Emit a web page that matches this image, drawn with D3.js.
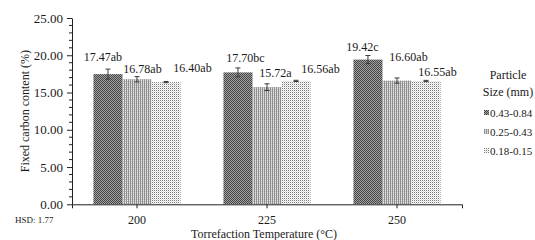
<!DOCTYPE html>
<html><head><meta charset="utf-8">
<script src="https://cdn.jsdelivr.net/npm/d3@7"></script>
<style>
html,body{margin:0;padding:0;background:#fff;}
svg{display:block;}
svg text{font-family:"Times New Roman","Liberation Serif","DejaVu Serif",serif;}
</style></head>
<body><svg id="c" width="535" height="240"></svg>
<script>
// ---- data ----
const temperatures = ["200", "225", "250"];
const particleSizes = ["0.43-0.84", "0.25-0.43", "0.18-0.15"];
const meanValues = [
  [17.47, 16.78, 16.40],
  [17.70, 15.72, 16.56],
  [19.42, 16.60, 16.55]
];
const errorValues = [
  [0.67, 0.35, 0.08],
  [0.60, 0.45, 0.08],
  [0.55, 0.35, 0.08]
];
const letterGroups = [
  ["ab", "ab", "ab"],
  ["bc", "a", "ab"],
  ["c", "ab", "ab"]
];
const yTicks = [0, 5, 10, 15, 20, 25];
const hsdText = "HSD: 1.77";

// ---- layout (label nudges in px relative to bar centre / top) ----
const labelNudge = [
  [[-5, -17], [5.5, -10], [26.5, -14]],
  [[7.5, -14.5], [8.5, -14], [24.5, -12]],
  [[-5.5, -12.5], [11.5, -24], [11.5, -9.5]]
];
const FONT = '"Times New Roman","Liberation Serif","DejaVu Serif",serif';

const svg = d3.select("#c").attr("font-family", FONT);
const m = {left: 72, right: 462, top: 18, bottom: 204.3};

// patterns
const defs = svg.append("defs");
function pat(id, w, h, bg, cells) {
  const p = defs.append("pattern").attr("id", id).attr("patternUnits", "userSpaceOnUse")
    .attr("width", w).attr("height", h);
  p.append("rect").attr("width", w).attr("height", h).attr("fill", bg);
  cells.forEach(c => p.append("rect").attr("x", c[0]).attr("y", c[1]).attr("width", c[2]).attr("height", c[3]).attr("fill", c[4]));
}
pat("p0", 2, 2, "#a2a2a2", [[0,0,1,1,"#454545"],[1,1,1,1,"#454545"]]);
pat("p1", 2, 2, "#e6e6e6", [[0,0,1,2,"#8e8e8e"],[1,1,1,1,"#c4c4c4"]]);
pat("p2", 2, 2, "#ffffff", [[0,0,1,1,"#7a7a7a"],[1,1,1,1,"#dadada"]]);
const fills = ["url(#p0)", "url(#p1)", "url(#p2)"];

const x = d3.scaleBand().domain(temperatures).range([m.left, m.right])
  .paddingInner(0.33).paddingOuter(0.165);
const xs = d3.scaleBand().domain(particleSizes).range([0, x.bandwidth()]);
const y = d3.scaleLinear().domain([0, 25]).range([m.bottom, m.top]);

// bars
const rows = [];
temperatures.forEach((t, gi) => particleSizes.forEach((s, si) => {
  rows.push({t, s, gi, si, v: meanValues[gi][si], e: errorValues[gi][si], l: letterGroups[gi][si]});
}));

svg.append("g").selectAll("rect").data(rows).join("rect")
  .attr("x", d => x(d.t) + xs(d.s))
  .attr("y", d => y(d.v))
  .attr("width", xs.bandwidth())
  .attr("height", d => y(0) - y(d.v))
  .attr("fill", d => fills[d.si]);

// error bars
const eg = svg.append("g").attr("stroke", "#3a3a3a").attr("stroke-width", 1);
rows.forEach(d => {
  const cx = x(d.t) + xs(d.s) + xs.bandwidth() / 2;
  eg.append("line").attr("x1", cx).attr("x2", cx).attr("y1", y(d.v + d.e)).attr("y2", y(d.v - d.e));
  eg.append("line").attr("x1", cx - 2.5).attr("x2", cx + 2.5).attr("y1", y(d.v + d.e)).attr("y2", y(d.v + d.e));
  eg.append("line").attr("x1", cx - 2.5).attr("x2", cx + 2.5).attr("y1", y(d.v - d.e)).attr("y2", y(d.v - d.e));
});

// value labels
svg.append("g").selectAll("text").data(rows).join("text")
  .attr("x", d => x(d.t) + xs(d.s) + xs.bandwidth() / 2 + labelNudge[d.gi][d.si][0])
  .attr("y", d => y(d.v) + labelNudge[d.gi][d.si][1])
  .attr("dy", "0.35em")
  .attr("text-anchor", "middle")
  .attr("font-size", 12)
  .attr("fill", "#1a1a1a")
  .text(d => d.v.toFixed(2) + d.l);

// y axis
const ya = svg.append("g").attr("transform", `translate(${m.left},0)`)
  .call(d3.axisLeft(y).tickValues(yTicks).tickFormat(d3.format(".2f")).tickSize(5).tickSizeOuter(0).tickPadding(4))
  .attr("font-family", FONT);
ya.selectAll("text").attr("font-size", 13).attr("fill", "#1a1a1a");
ya.selectAll("line,path").attr("stroke", "#222");
const minor = d3.range(0, 26).filter(v => v % 5 !== 0);
svg.append("g").selectAll("line").data(minor).join("line")
  .attr("x1", m.left - 3).attr("x2", m.left).attr("y1", d => y(d)).attr("y2", d => y(d))
  .attr("stroke", "#222");

// x axis
const xa = svg.append("g").attr("transform", `translate(0,${m.bottom})`)
  .call(d3.axisBottom(x).tickSize(4).tickSizeOuter(4).tickPadding(7))
  .attr("font-family", FONT);
xa.selectAll("text").attr("font-size", 12).attr("fill", "#1a1a1a");
xa.selectAll("line,path").attr("stroke", "#222");

// axis titles
svg.append("text").attr("transform", `translate(25,${(m.top + m.bottom) / 2}) rotate(-90)`)
  .attr("text-anchor", "middle").attr("dy", "0.35em").attr("font-size", 12).attr("fill", "#1a1a1a")
  .text("Fixed carbon content (%)");
svg.append("text").attr("x", 264).attr("y", 237.5).attr("text-anchor", "middle")
  .attr("font-size", 12).attr("fill", "#1a1a1a").text("Torrefaction Temperature (°C)");
svg.append("text").attr("x", 15).attr("y", 223).attr("font-size", 9).attr("fill", "#1a1a1a").text(hsdText);

// legend
const lg = svg.append("g");
lg.append("text").attr("x", 508).attr("y", 75).attr("dy", "0.35em").attr("text-anchor", "middle")
  .attr("font-size", 12).attr("fill", "#1a1a1a").text("Particle");
lg.append("text").attr("x", 508).attr("y", 92).attr("dy", "0.35em").attr("text-anchor", "middle")
  .attr("font-size", 12).attr("fill", "#1a1a1a").text("Size (mm)");
const ly = d3.scalePoint().domain(particleSizes).range([113, 151]);
particleSizes.forEach((s, i) => {
  lg.append("rect").attr("x", 484).attr("y", ly(s) - 3).attr("width", 5).attr("height", 5).attr("fill", fills[i]);
  lg.append("text").attr("x", 490).attr("y", ly(s)).attr("dy", "0.35em").attr("font-size", 11)
    .attr("fill", "#1a1a1a").text(s);
});
</script></body></html>
